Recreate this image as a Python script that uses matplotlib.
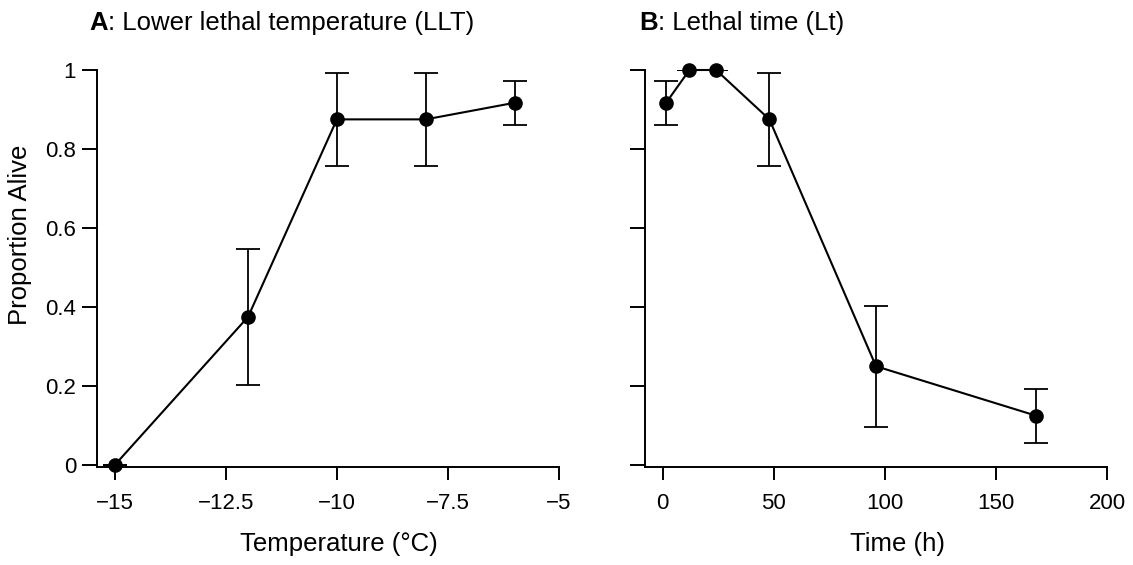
import matplotlib
matplotlib.use('Agg')
import matplotlib.pyplot as plt
import numpy as np

plt.rcParams['font.family'] = ['Liberation Sans', 'DejaVu Sans']

# Panel A: lower lethal temperature
temp_c = [-15, -12, -10, -8, -6]
alive_a = [0.0, 0.375, 0.875, 0.875, 0.917]
err_a = [0.0, 0.172, 0.118, 0.118, 0.056]

# Panel B: lethal time
time_h = [1.5, 12, 24, 48, 96, 168]
alive_b = [0.917, 1.0, 1.0, 0.875, 0.25, 0.125]
err_b = [0.056, 0.0, 0.0, 0.118, 0.153, 0.068]

y_ticks = [0, 0.2, 0.4, 0.6, 0.8, 1]
y_labels = ['0', '0.2', '0.4', '0.6', '0.8', '1']
a_ticks = [-15, -12.5, -10, -7.5, -5]
a_labels = ['\u221215', '\u221212.5', '\u221210', '\u22127.5', '\u22125']
b_ticks = [0, 50, 100, 150, 200]
b_labels = ['0', '50', '100', '150', '200']

W, H = 1133, 565
fig = plt.figure(figsize=(W / 100, H / 100), dpi=100)

def px_axes(left, top, right, bottom):
    return fig.add_axes([left / W, 1 - bottom / H, (right - left) / W, (bottom - top) / H])

ax_a = px_axes(97, 70, 559, 467)
ax_b = px_axes(645, 70, 1107, 467)

for ax, x, y, e in [(ax_a, temp_c, alive_a, err_a), (ax_b, time_h, alive_b, err_b)]:
    ax.errorbar(x, y, yerr=e, fmt='none', ecolor='black', elinewidth=1.3,
                capsize=8.5, capthick=1.3, zorder=2)
    ax.plot(x, y, color='black', lw=1.5, marker='o', markersize=9.5, zorder=3, clip_on=False)
    for s in ['top', 'right']:
        ax.spines[s].set_visible(False)
    for s in ['left', 'bottom']:
        ax.spines[s].set_linewidth(1.4)
    ax.tick_params(axis='x', direction='out', length=9.5, width=1.4, labelsize=16, pad=9)
    ax.tick_params(axis='y', direction='out', length=11, width=1.4, labelsize=16, pad=4)
    ax.set_ylim(-0.005, 1.0)
    ax.set_yticks(y_ticks)

ax_a.set_yticklabels(y_labels)
ax_b.set_yticklabels([])
ax_a.set_xlim(-15.4, -5)
ax_a.set_xticks(a_ticks)
ax_a.set_xticklabels(a_labels)
ax_b.set_xlim(-8, 200)
ax_b.set_xticks(b_ticks)
ax_b.set_xticklabels(b_labels)

# axis labels placed in pixel coordinates
fig.text(339 / W, 1 - 551 / H, 'Temperature (\u00b0C)', fontsize=18.5, ha='center', va='baseline')
fig.text(898 / W, 1 - 551 / H, 'Time (h)', fontsize=18.5, ha='center', va='baseline')
fig.text(20 / W, 1 - 235 / H, 'Proportion Alive', rotation=90, fontsize=18.5,
         ha='center', va='center')

# titles with bold panel letter
for letter, rest, x0 in [('A', ': Lower lethal temperature (LLT)', 89),
                         ('B', ': Lethal time (Lt)', 639)]:
    t = fig.text(x0 / W, 1 - 30 / H, letter, fontsize=18.5, fontweight='bold',
                 ha='left', va='baseline')
    fig.add_artist(matplotlib.text.Annotation(rest, xy=(1, 0), xycoords=t,
                                              va='bottom', ha='left', fontsize=18.5))

fig.savefig('out.png', dpi=100)
